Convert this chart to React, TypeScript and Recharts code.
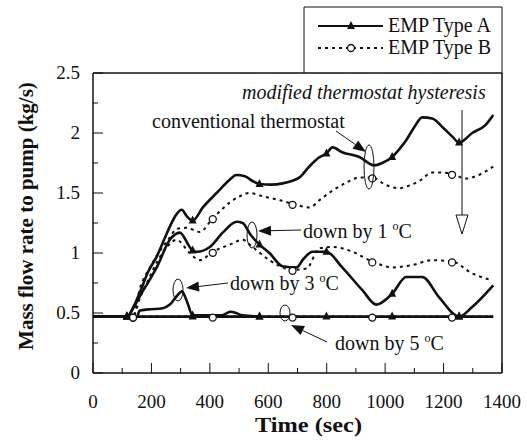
import React from 'react';
import { LineChart, Line, XAxis, YAxis } from 'recharts';

// time (s), mass flow (kg/s)
const convA: [number, number][] = [
  [0, 0.47], [116, 0.47], [140, 0.56], [160, 0.67], [190, 0.85], [218, 0.97], [245, 1.12], [263, 1.22],
  [285, 1.32], [304, 1.36], [320, 1.31], [341, 1.27], [376, 1.38], [423, 1.5], [468, 1.61], [490, 1.65],
  [520, 1.64], [546, 1.6], [570, 1.575], [610, 1.57], [649, 1.58], [680, 1.6], [707, 1.63], [740, 1.72],
  [770, 1.79], [799, 1.83], [820, 1.88], [853, 1.84], [912, 1.8], [963, 1.73], [990, 1.75], [1024, 1.8],
  [1050, 1.87], [1072, 1.94], [1100, 2.05], [1127, 2.13], [1161, 2.12], [1200, 2.04], [1230, 1.97],
  [1253, 1.92], [1298, 2.0], [1345, 2.07], [1370, 2.15],
];
const convB: [number, number][] = [
  [0, 0.47], [137, 0.47], [160, 0.7], [195, 0.88], [230, 1.02], [263, 1.13], [286, 1.2], [321, 1.21],
  [365, 1.175], [410, 1.29], [440, 1.36], [468, 1.42], [500, 1.47], [536, 1.5], [570, 1.48], [604, 1.46],
  [640, 1.44], [683, 1.41], [741, 1.38], [780, 1.45], [820, 1.52], [870, 1.59], [912, 1.63], [956, 1.63],
  [1000, 1.57], [1048, 1.54], [1080, 1.56], [1117, 1.6], [1161, 1.67], [1200, 1.67], [1229, 1.66],
  [1277, 1.62], [1320, 1.65], [1370, 1.72],
];
const down1A: [number, number][] = [
  [0, 0.47], [116, 0.47], [140, 0.55], [165, 0.66], [190, 0.76], [218, 0.88], [263, 1.11], [297, 1.17],
  [331, 1.05], [341, 1.02], [355, 1.01], [400, 1.05], [444, 1.17], [492, 1.26], [512, 1.25], [540, 1.15],
  [570, 1.07], [604, 1.0], [649, 0.89], [697, 0.88], [720, 0.95], [751, 1.01], [799, 1.01], [853, 0.88],
  [922, 0.69], [970, 0.57], [1024, 0.66], [1072, 0.8], [1127, 0.8], [1185, 0.63], [1253, 0.47],
  [1298, 0.55], [1370, 0.73],
];
const down1B: [number, number][] = [
  [0, 0.47], [137, 0.47], [160, 0.62], [190, 0.78], [220, 0.93], [253, 1.05], [286, 1.11], [331, 1.0],
  [365, 0.94], [410, 1.01], [468, 1.07], [512, 1.11], [546, 1.05], [604, 0.94], [683, 0.86], [731, 0.87],
  [775, 1.04], [820, 1.05], [878, 1.02], [956, 0.93], [1024, 0.88], [1093, 0.9], [1161, 0.94],
  [1229, 0.93], [1298, 0.83], [1355, 0.78],
];
const down3A: [number, number][] = [
  [0, 0.47], [116, 0.47], [150, 0.47], [160, 0.52], [190, 0.53], [239, 0.54], [263, 0.57], [290, 0.65],
  [304, 0.68], [324, 0.58], [341, 0.48], [440, 0.48], [470, 0.51], [490, 0.5], [510, 0.48], [570, 0.47],
];
const down5A: [number, number][] = [
  [0, 0.47], [116, 0.47], [341, 0.47], [570, 0.47], [799, 0.47], [1024, 0.47], [1253, 0.47], [1370, 0.47],
];
const down5B: [number, number][] = [
  [0, 0.47], [137, 0.47], [410, 0.47], [683, 0.47], [956, 0.47], [1229, 0.47], [1370, 0.47],
];

const marksA = [116, 341, 570, 799, 1024, 1253];
const marksB = [137, 410, 683, 956, 1229];

const xTicks = [0, 100, 200, 300, 400, 500, 600, 700, 800, 900, 1000, 1100, 1200, 1300, 1400];
const yTicks = [0, 0.25, 0.5, 0.75, 1, 1.25, 1.5, 1.75, 2, 2.25, 2.5];

const PLOT = { left: 93, right: 502, top: 73, bottom: 373 };
const FONT = 'Liberation Serif, Tinos, DejaVu Serif, serif';
const INK = '#111';

const toRows = (s: [number, number][]) => s.map(([t, v]) => ({ t, v }));

const isMajorX = (v: number) => v % 200 === 0;
const isMajorY = (v: number) => Math.abs(v * 2 - Math.round(v * 2)) < 1e-6;

function BottomTick({ x, payload }: any) {
  const major = isMajorX(payload.value);
  return (
    <g>
      <line x1={x} x2={x} y1={PLOT.bottom} y2={PLOT.bottom - (major ? 10 : 5)} stroke={INK} />
      {major && (
        <text x={x} y={PLOT.bottom + 35} textAnchor="middle" fontSize={19} fontFamily={FONT} fill={INK}>
          {payload.value}
        </text>
      )}
    </g>
  );
}

function TopTick({ x, payload }: any) {
  const major = isMajorX(payload.value);
  return <line x1={x} x2={x} y1={PLOT.top} y2={PLOT.top + (major ? 10 : 5)} stroke={INK} />;
}

function LeftTick({ y, payload }: any) {
  const major = isMajorY(payload.value);
  return (
    <g>
      <line x1={PLOT.left} x2={PLOT.left + (major ? 10 : 5)} y1={y} y2={y} stroke={INK} />
      {major && (
        <text x={PLOT.left - 13} y={y + 6} textAnchor="end" fontSize={19} fontFamily={FONT} fill={INK}>
          {payload.value}
        </text>
      )}
    </g>
  );
}

function RightTick({ y, payload }: any) {
  const major = isMajorY(payload.value);
  return <line x1={PLOT.right} x2={PLOT.right - (major ? 10 : 5)} y1={y} y2={y} stroke={INK} />;
}

const markDot = (marks: number[], kind: 'tri' | 'circ') => (p: any) => {
  const key = `d-${p.index}`;
  if (!marks.includes(p.payload.t)) return <g key={key} />;
  if (kind === 'tri') {
    const { cx, cy } = p;
    return <polygon key={key} points={`${cx},${cy - 5} ${cx - 4},${cy + 3} ${cx + 4},${cy + 3}`} fill={INK} />;
  }
  return <circle key={key} cx={p.cx} cy={p.cy + 1} r={3.5} fill="#fff" stroke={INK} strokeWidth={1.3} />;
};

function Arrow({ x1, y1, x2, y2 }: { x1: number; y1: number; x2: number; y2: number }) {
  const a = Math.atan2(y2 - y1, x2 - x1);
  const len = 13;
  const w = 5;
  const bx = x2 - len * Math.cos(a);
  const by = y2 - len * Math.sin(a);
  const nx = -Math.sin(a) * w;
  const ny = Math.cos(a) * w;
  return (
    <g>
      <line x1={x1} y1={y1} x2={bx} y2={by} stroke={INK} strokeWidth={1} />
      <polygon points={`${x2},${y2} ${bx + nx},${by + ny} ${bx - nx},${by - ny}`} fill={INK} />
    </g>
  );
}

function Deg({ n }: { n: number }) {
  return (
    <>
      {`down by ${n} `}
      <tspan fontSize={12} dy={-8}>o</tspan>
      <tspan dy={8}>C</tspan>
    </>
  );
}

function Overlay() {
  return (
    <svg width={527} height={444} style={{ position: 'absolute', left: 0, top: 0, pointerEvents: 'none' }}>
      <g fontFamily={FONT} fill={INK} fontSize={20}>
        {/* legend */}
        <polyline points={`304,${PLOT.top} 304,7 502,7 502,${PLOT.top}`} fill="none" stroke={INK} strokeWidth={1} />
        <line x1={318} x2={383} y1={26} y2={26} stroke={INK} strokeWidth={2.2} />
        <polygon points="351,21 347,29 355,29" fill={INK} />
        <line x1={318} x2={383} y1={48} y2={48} stroke={INK} strokeWidth={1.8} strokeDasharray="3 4" />
        <circle cx={351} cy={48} r={3.5} fill="#fff" stroke={INK} strokeWidth={1.3} />
        <text x={388} y={32}>EMP Type A</text>
        <text x={388} y={54}>EMP Type B</text>

        {/* axis titles */}
        <text x={255} y={432} fontWeight="bold" fontSize={21} textLength={107} lengthAdjust="spacingAndGlyphs">
          Time (sec)
        </text>
        <text x={33} y={216} textAnchor="middle" fontWeight="bold" fontSize={21} transform="rotate(-90 33 216)">
          Mass flow rate to pump (kg/s)
        </text>

        {/* annotations */}
        <text x={242} y={99} fontStyle="italic">modified thermostat hysteresis</text>
        <line x1={462} x2={462} y1={110} y2={216} stroke={INK} strokeWidth={1} />
        <polygon points="462,234 456,215 468,215" fill="#fff" stroke={INK} strokeWidth={1} />

        <text x={152} y={128}>conventional thermostat</text>
        <Arrow x1={336} y1={131} x2={366} y2={152} />
        <ellipse cx={369} cy={167} rx={5} ry={22} fill="none" stroke={INK} strokeWidth={1} />

        <text x={303} y={238}><Deg n={1} /></text>
        <Arrow x1={301} y1={230} x2={258} y2={231} />
        <ellipse cx={252} cy={235} rx={5} ry={13} fill="none" stroke={INK} strokeWidth={1} />

        <text x={230} y={290}><Deg n={3} /></text>
        <Arrow x1={228} y1={283} x2={186} y2={288} />
        <ellipse cx={178} cy={290} rx={5} ry={11} fill="none" stroke={INK} strokeWidth={1} />

        <text x={335} y={350}><Deg n={5} /></text>
        <Arrow x1={327} y1={342} x2={291} y2={325} />
        <ellipse cx={285} cy={313} rx={5} ry={8} fill="none" stroke={INK} strokeWidth={1} />
      </g>
    </svg>
  );
}

export default function App() {
  const solid = { stroke: INK, strokeWidth: 2.6, type: 'monotone' as const, isAnimationActive: false };
  const dashed = { stroke: INK, strokeWidth: 2, strokeDasharray: '3 4', type: 'monotone' as const, isAnimationActive: false };
  return (
    <div style={{ position: 'absolute', left: 0, top: 0, width: 527, height: 444, background: '#fff' }}>
      <LineChart width={527} height={444} margin={{ top: 72, right: 24, bottom: 41, left: 0 }}>
        <XAxis
          dataKey="t"
          type="number"
          domain={[0, 1400]}
          ticks={xTicks}
          interval={0}
          tick={<BottomTick />}
          tickLine={false}
          height={30}
          axisLine={{ stroke: INK, strokeWidth: 1.5 }}
          allowDataOverflow
        />
        <XAxis
          xAxisId="top"
          orientation="top"
          dataKey="t"
          type="number"
          domain={[0, 1400]}
          ticks={xTicks}
          interval={0}
          tick={<TopTick />}
          tickLine={false}
          height={1}
          axisLine={{ stroke: INK, strokeWidth: 1.5 }}
        />
        <YAxis
          type="number"
          domain={[0, 2.5]}
          ticks={yTicks}
          interval={0}
          tick={<LeftTick />}
          tickLine={false}
          width={93}
          axisLine={{ stroke: INK, strokeWidth: 1.5 }}
          allowDataOverflow
        />
        <YAxis
          yAxisId="right"
          orientation="right"
          type="number"
          domain={[0, 2.5]}
          ticks={yTicks}
          interval={0}
          tick={<RightTick />}
          tickLine={false}
          width={1}
          axisLine={{ stroke: INK, strokeWidth: 1.5 }}
        />
        <Line data={toRows(down5B)} dataKey="v" {...dashed} dot={markDot(marksB, 'circ')} />
        <Line data={toRows(down5A)} dataKey="v" {...solid} dot={markDot(marksA, 'tri')} />
        <Line data={toRows(down3A)} dataKey="v" {...solid} dot={markDot(marksA, 'tri')} />
        <Line data={toRows(down1B)} dataKey="v" {...dashed} dot={markDot(marksB, 'circ')} />
        <Line data={toRows(down1A)} dataKey="v" {...solid} dot={markDot(marksA, 'tri')} />
        <Line data={toRows(convB)} dataKey="v" {...dashed} dot={markDot(marksB, 'circ')} />
        <Line data={toRows(convA)} dataKey="v" {...solid} dot={markDot(marksA, 'tri')} />
      </LineChart>
      <Overlay />
    </div>
  );
}
